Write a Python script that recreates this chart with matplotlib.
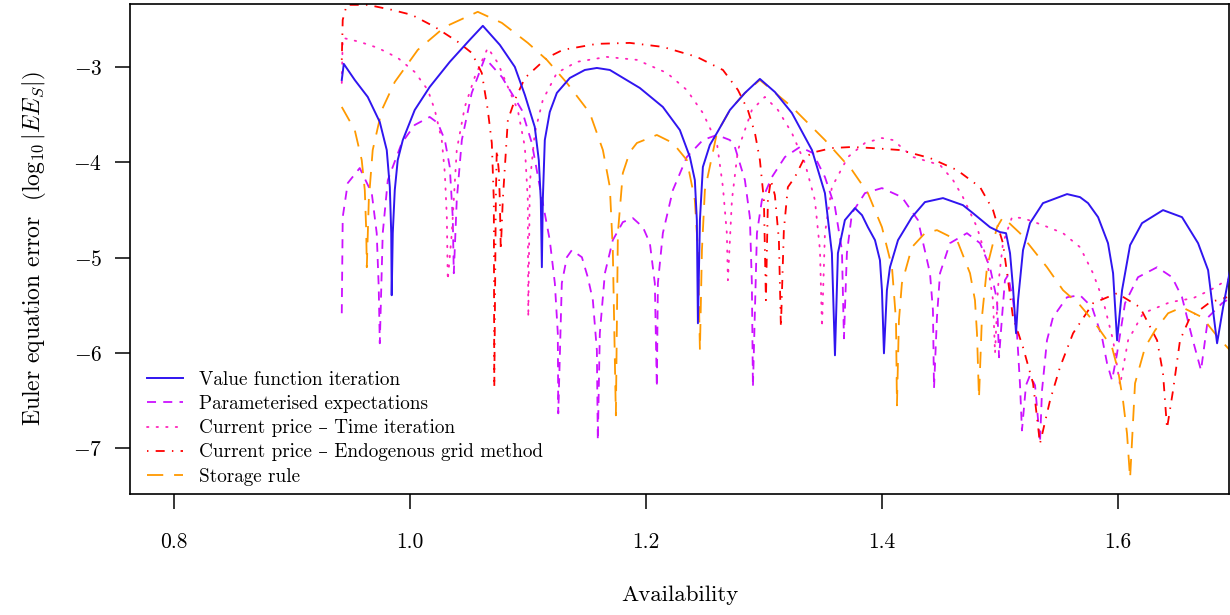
import matplotlib
matplotlib.use("Agg")
import matplotlib.pyplot as plt

plt.rcParams['font.family'] = ['cmr10', 'DejaVu Serif']
plt.rcParams['mathtext.fontset'] = 'cm'
plt.rcParams['axes.formatter.use_mathtext'] = True

# ---- data ----
vfi_x = [0.9424, 0.9441, 0.9534, 0.9644, 0.9746, 0.9805, 0.9831, 0.9843, 0.9847,
         0.9856, 0.9873, 0.9898, 0.9941, 1.0042, 1.0169, 1.0339, 1.0508, 1.0619,
         1.0763, 1.0890, 1.0975, 1.1059, 1.1093, 1.1110, 1.1119,
         1.1127, 1.1144, 1.1186, 1.1246, 1.1356, 1.1483, 1.1585, 1.1695, 1.1949, 1.2144,
         1.2288, 1.2373, 1.2415, 1.2432, 1.2441,
         1.2458, 1.2483, 1.2542, 1.2602, 1.2712, 1.2839, 1.2966, 1.3093, 1.3237, 1.3407,
         1.3517, 1.3576, 1.3602,
         1.3627, 1.3686, 1.3771, 1.3831, 1.3881, 1.3941, 1.3983, 1.4000, 1.4017,
         1.4042, 1.4068, 1.4136, 1.4254, 1.4364, 1.4517, 1.4686, 1.4771, 1.4915, 1.5000,
         1.5051, 1.5085, 1.5110, 1.5136,
         1.5153, 1.5195, 1.5254, 1.5364, 1.5568, 1.5678, 1.5746, 1.5831, 1.5915, 1.5958, 1.5992,
         1.6034, 1.6102, 1.6203, 1.6381, 1.6542, 1.6678, 1.6763, 1.6839, 1.6890, 1.6949]
vfi_y = [-3.137, -2.968, -3.137, -3.315, -3.578, -3.872, -4.261, -4.744, -5.395,
         -4.744, -4.292, -3.977, -3.767, -3.452, -3.210, -2.947, -2.716, -2.569,
         -2.769, -3.000, -3.294, -3.630, -3.977, -4.397, -5.101,
         -4.397, -3.767, -3.473, -3.273, -3.116, -3.032, -3.011, -3.032, -3.221, -3.420,
         -3.662, -3.945, -4.187, -4.607, -5.689,
         -4.607, -4.050, -3.819, -3.693, -3.452, -3.273, -3.126, -3.263, -3.483, -3.872,
         -4.324, -4.954, -6.025,
         -4.954, -4.607, -4.481, -4.555, -4.681, -4.817, -5.027, -5.342, -6.004,
         -5.342, -5.101, -4.817, -4.576, -4.418, -4.376, -4.450, -4.534, -4.681, -4.733,
         -4.744, -4.954, -5.311, -5.794,
         -5.447, -4.922, -4.639, -4.429, -4.334, -4.366, -4.429, -4.576, -4.849, -5.164, -5.868,
         -5.342, -4.870, -4.639, -4.502, -4.576, -4.849, -5.132, -5.899, -5.521, -5.132]

pea_x = [0.9424, 0.9432, 0.9475, 0.9576, 0.9678, 0.9720, 0.9737, 0.9746,
         0.9771, 0.9814, 0.9932, 1.0042, 1.0169, 1.0237, 1.0297, 1.0339, 1.0364, 1.0373,
         1.0398, 1.0441, 1.0525, 1.0636, 1.0780, 1.0949, 1.1034, 1.1102, 1.1186, 1.1229,
         1.1254, 1.1258,
         1.1288, 1.1331, 1.1373, 1.1458, 1.1508, 1.1551, 1.1585, 1.1593,
         1.1610, 1.1653, 1.1720, 1.1805, 1.1890, 1.1975, 1.2034, 1.2076, 1.2093,
         1.2102, 1.2144, 1.2229, 1.2347, 1.2483, 1.2602, 1.2712, 1.2754, 1.2839, 1.2881,
         1.2898, 1.2907,
         1.2941, 1.2983, 1.3068, 1.3178, 1.3305, 1.3415, 1.3517, 1.3602, 1.3661, 1.3678,
         1.3703, 1.3746, 1.3856, 1.4000, 1.4169, 1.4305, 1.4407, 1.4432, 1.4441,
         1.4466, 1.4492, 1.4576, 1.4720, 1.4831, 1.4915, 1.4975, 1.4992,
         1.5017, 1.5042, 1.5068, 1.5110, 1.5144, 1.5169, 1.5186,
         1.5220, 1.5254, 1.5297, 1.5339,
         1.5356, 1.5398, 1.5449, 1.5568, 1.5678, 1.5780, 1.5864, 1.5907, 1.5949,
         1.5992, 1.6059, 1.6169, 1.6331, 1.6458, 1.6542, 1.6627, 1.6703,
         1.6763, 1.6881, 1.6949]
pea_y = [-5.584, -4.576, -4.218, -4.061, -4.324, -4.744, -5.311, -5.899,
         -4.744, -4.187, -3.798, -3.609, -3.525, -3.588, -3.767, -4.050, -4.576, -5.164,
         -4.397, -3.767, -3.273, -2.905, -3.105, -3.452, -3.798, -4.261, -4.817, -5.269,
         -5.794, -6.634,
         -5.269, -4.996, -4.922, -4.996, -5.206, -5.447, -5.973, -6.918,
         -5.794, -5.164, -4.817, -4.628, -4.586, -4.681, -4.849, -5.269, -6.361,
         -5.269, -4.744, -4.292, -3.945, -3.767, -3.714, -3.767, -3.840, -4.187, -4.576,
         -5.269, -6.361,
         -4.744, -4.397, -4.155, -3.945, -3.840, -3.903, -4.155, -4.471, -4.922, -5.847,
         -4.954, -4.534, -4.324, -4.271, -4.366, -4.607, -5.164, -5.553, -6.372,
         -5.626, -5.164, -4.849, -4.744, -4.849, -5.101, -5.447, -6.046,
         -5.626, -5.237, -5.185, -5.447, -5.794, -6.319, -6.813,
         -6.340, -6.235, -6.340, -6.939,
         -6.393, -5.868, -5.626, -5.416, -5.395, -5.521, -5.836, -6.109, -6.288,
         -6.004, -5.479, -5.206, -5.101, -5.206, -5.416, -5.836, -6.183,
         -5.626, -5.479, -5.426]

ti_x = [0.9424, 0.9432, 0.9576, 0.9729, 0.9898, 1.0042, 1.0153, 1.0212, 1.0271, 1.0297,
        1.0314, 1.0322,
        1.0356, 1.0398, 1.0466, 1.0551, 1.0661, 1.0746, 1.0831, 1.0915, 1.0975, 1.1000, 1.1004,
        1.1017, 1.1059, 1.1127, 1.1246, 1.1415, 1.1669, 1.1924, 1.2178, 1.2347, 1.2483,
        1.2602, 1.2653, 1.2686, 1.2695,
        1.2729, 1.2780, 1.2898, 1.3008, 1.3119, 1.3237, 1.3347, 1.3432, 1.3475, 1.3492,
        1.3517, 1.3576, 1.3712, 1.3856, 1.4000, 1.4093, 1.4263, 1.4492, 1.4602, 1.4686,
        1.4805, 1.4890, 1.4941, 1.4958,
        1.4983, 1.5025, 1.5102, 1.5195, 1.5364, 1.5534, 1.5678, 1.5788, 1.5873, 1.5958, 1.6017,
        1.6085, 1.6212, 1.6441, 1.6636, 1.6780, 1.6949]
ti_y = [-3.168, -2.695, -2.737, -2.800, -2.905, -3.053, -3.242, -3.452, -3.767, -4.113,
        -4.576, -5.237,
        -4.744, -3.872, -3.420, -3.105, -2.800, -2.958, -3.210, -3.452, -3.840, -4.397, -5.626,
        -4.218, -3.693, -3.347, -3.063, -2.947, -2.895, -2.926, -3.063, -3.242, -3.483,
        -3.798, -4.261, -4.744, -5.237,
        -4.397, -3.872, -3.452, -3.315, -3.452, -3.693, -4.008, -4.397, -4.922, -5.731,
        -4.744, -4.261, -3.945, -3.798, -3.746, -3.767, -3.945, -4.029, -4.187, -4.366,
        -4.681, -5.027, -5.447, -6.004,
        -5.311, -4.849, -4.576, -4.586, -4.660, -4.744, -4.891, -5.164, -5.447, -5.868, -6.340,
        -5.868, -5.584, -5.468, -5.426, -5.342, -5.216]

egm_x = [0.9424, 0.9432, 0.9466, 0.9644, 0.9847, 1.0017, 1.0212, 1.0407, 1.0525, 1.0610,
         1.0661, 1.0695, 1.0712, 1.0716,
         1.0729, 1.0737, 1.0754, 1.0763, 1.0771,
         1.0788, 1.0831, 1.0890, 1.0975, 1.1161, 1.1297, 1.1585, 1.1864, 1.2144, 1.2432,
         1.2653, 1.2780, 1.2864, 1.2924, 1.2966, 1.3000, 1.3017,
         1.3034, 1.3059, 1.3093, 1.3127, 1.3144,
         1.3169, 1.3203, 1.3263, 1.3347, 1.3432, 1.3576, 1.3746, 1.3915, 1.4153, 1.4407,
         1.4636, 1.4831, 1.4941, 1.5025, 1.5068, 1.5110, 1.5195, 1.5280, 1.5339,
         1.5424, 1.5508, 1.5619, 1.5788, 1.5992, 1.6186, 1.6331, 1.6381, 1.6415,
         1.6466, 1.6525, 1.6610, 1.6780, 1.6924]
egm_y = [-2.926, -2.506, -2.349, -2.349, -2.401, -2.454, -2.580, -2.737, -2.853, -3.063,
         -3.452, -3.798, -4.397, -6.361,
         -4.397, -3.872, -4.082, -4.397, -4.922,
         -4.397, -3.557, -3.347, -3.116, -2.905, -2.821, -2.758, -2.748, -2.790, -2.895,
         -3.032, -3.242, -3.452, -3.693, -3.977, -4.397, -5.447,
         -4.397, -4.187, -4.345, -4.817, -5.731,
         -4.712, -4.261, -4.155, -3.945, -3.893, -3.851, -3.840, -3.851, -3.872, -3.956,
         -4.082, -4.261, -4.502, -4.849, -5.237, -5.626, -5.941, -6.319, -6.950,
         -6.498, -6.151, -5.794, -5.479, -5.374, -5.521, -5.868, -6.214, -6.792,
         -6.393, -5.868, -5.626, -5.468, -5.416]

sr_x = [0.9424, 0.9534, 0.9593, 0.9619, 0.9631, 0.9636,
        0.9653, 0.9686, 0.9763, 0.9873, 1.0068, 1.0297, 1.0576,
        1.0780, 1.1000, 1.1161, 1.1331, 1.1525, 1.1636, 1.1695, 1.1720, 1.1746,
        1.1763, 1.1805, 1.1864, 1.1924, 1.2093, 1.2229, 1.2347, 1.2415, 1.2441, 1.2458,
        1.2475, 1.2500, 1.2602, 1.2712, 1.2839, 1.2966, 1.3237, 1.3517, 1.3746, 1.3881,
        1.4000, 1.4085, 1.4119, 1.4127,
        1.4144, 1.4169, 1.4254, 1.4364, 1.4466, 1.4636, 1.4746, 1.4788, 1.4805, 1.4822,
        1.4847, 1.4890, 1.4975, 1.5025, 1.5169, 1.5398, 1.5534, 1.5678, 1.5805, 1.5949,
        1.6000, 1.6042, 1.6076, 1.6102,
        1.6144, 1.6229, 1.6314, 1.6424, 1.6542, 1.6712, 1.6847, 1.6949]
sr_y = [-3.420, -3.662, -3.977, -4.292, -4.712, -5.101,
        -4.397, -3.872, -3.452, -3.158, -2.821, -2.580, -2.422,
        -2.538, -2.748, -2.926, -3.168, -3.483, -3.872, -4.261, -4.922, -6.655,
        -4.744, -4.113, -3.893, -3.798, -3.714, -3.798, -3.977, -4.397, -4.922, -5.973,
        -4.922, -4.292, -3.693, -3.452, -3.273, -3.137, -3.420, -3.767, -4.082, -4.324,
        -4.681, -5.101, -5.658, -6.550,
        -5.658, -5.269, -4.891, -4.744, -4.712, -4.817, -5.164, -5.447, -5.794, -6.477,
        -5.626, -5.101, -4.681, -4.576, -4.744, -5.101, -5.342, -5.500, -5.689, -5.941,
        -6.183, -6.498, -6.845, -7.317,
        -6.319, -5.941, -5.763, -5.584, -5.521, -5.626, -5.836, -5.973]

labels = ["Value function iteration", "Parameterised expectations",
          "Current price \u2013 Time iteration",
          "Current price \u2013 Endogenous grid method", "Storage rule"]
x_ticks = [0.8, 1.0, 1.2, 1.4, 1.6]
y_ticks = [-3, -4, -5, -6, -7]

fig = plt.figure(figsize=(12.3, 6.15), dpi=100)
ax = fig.add_axes([130/1230, (615-494)/615, 1099/1230, 490/615])

lw = 1.3
ax.plot(vfi_x, vfi_y, color='#3015f0', lw=1.4, ls='-', label=labels[0], zorder=5)
ax.plot(pea_x, pea_y, color='#cc11ff', lw=lw, ls=(0, (5, 4)), label=labels[1])
ax.plot(ti_x, ti_y, color='#ff22bb', lw=lw, ls=(0, (0.8, 4.5)), dash_capstyle='round',
        label=labels[2])
ax.plot(egm_x, egm_y, color='#ff0000', lw=lw, ls=(0, (0.8, 4, 5, 4)), label=labels[3])
ax.plot(sr_x, sr_y, color='#ff9900', lw=lw, ls=(0, (9, 6)), label=labels[4])

ax.set_xlim(0.763, 1.694)
ax.set_ylim(-7.48, -2.34)
ax.set_xticks(x_ticks)
ax.set_yticks(y_ticks)
ax.set_xticklabels(["0.8", "1.0", "1.2", "1.4", "1.6"])
ax.set_yticklabels([r"$-3$", r"$-4$", r"$-5$", r"$-6$", r"$-7$"])
ax.tick_params(axis='x', direction='out', length=11, width=1.1, pad=17, labelsize=15.5)
ax.tick_params(axis='y', direction='out', length=11, width=1.1, pad=9, labelsize=15.5)
for s in ax.spines.values():
    s.set_linewidth(1.2)

ax.set_xlabel("Availability", fontsize=16.5, labelpad=24)
ax.set_ylabel(r"Euler equation error  $\left(\log_{10}|EE_S|\right)$", fontsize=17, labelpad=18)

leg = ax.legend(loc='lower left', bbox_to_anchor=(0.0, -0.018), frameon=False, fontsize=13.8,
                handlelength=1.85, handletextpad=0.85, labelspacing=0.32,
                borderaxespad=0.5)

fig.savefig("out.png", dpi=100)
